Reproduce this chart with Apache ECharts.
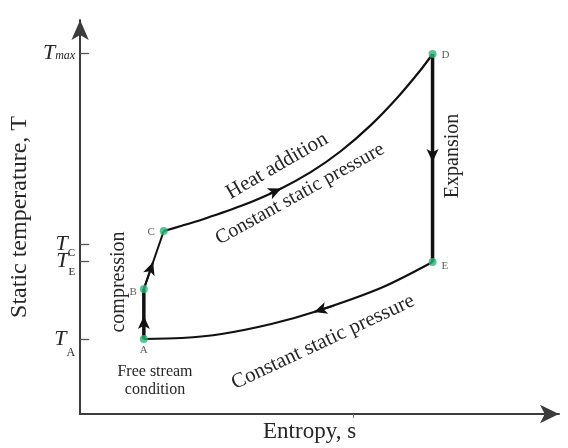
<!DOCTYPE html>
<html>
<head>
<meta charset="utf-8">
<script src="https://cdn.jsdelivr.net/npm/echarts@6/dist/echarts.min.js"></script>
<style>
html,body{margin:0;padding:0;background:#fff;}
#chart{width:568px;height:448px;}
</style>
</head>
<body>
<div id="chart"></div>
<script>
// ---- data (entropy s, temperature T in arbitrary schematic units) ----
const pointNames = ['A', 'B', 'C', 'D', 'E'];
const pointS = [64, 64, 84, 354, 354];
const pointT = [75, 125, 183, 360, 152];

const compressionAB = [[64, 75], [64, 125]];
const compressionBC = [[64, 125], [84, 183]];
const heatAddition = [[84, 183], [102, 188.2], [122, 194.3], [162, 208.2], [200, 224.6], [232, 242.1], [262, 263], [292, 288.9], [319, 316.8], [342, 344], [354, 360]];
const expansion = [[354, 360], [354, 152]];
const heatRejection = [[354, 152], [302, 126], [235, 102], [192, 90], [142, 80], [102, 76], [64, 75]];

// direction arrows: [from, to] (arrow head drawn at "to")
const arrows = [
  [[64, 75], [64, 98]],
  [[64, 125], [73.3, 152]],
  [[190, 220.2], [202, 225.6]],
  [[354, 360], [354, 252]],
  [[255, 108.4], [235, 102]]
];

const yTickValues = [75, 153, 170, 361];
const yTickSubs = ['A', 'E', 'C', 'max'];
const xTickValues = [274];

const xTitle = 'Entropy, s';
const yTitle = 'Static temperature, T';

// ---- chart ----
const serif = "'Liberation Serif', 'DejaVu Serif', serif";
const txt = '#262626';
const chart = echarts.init(document.getElementById('chart'), null, {renderer: 'canvas'});

const lineSeries = (data, width, extra) => Object.assign({
  type: 'line', data: data, showSymbol: false, symbol: 'none',
  lineStyle: {color: '#111', width: width}, silent: true, z: 3, animation: false
}, extra || {});

const labelPos = {
  A: {position: 'bottom', distance: 2, offset: [0, 0]},
  B: {position: 'left', distance: 3, offset: [0, 3]},
  C: {position: 'left', distance: 5, offset: [0, 1]},
  D: {position: 'right', distance: 5, offset: [0, 1]},
  E: {position: 'right', distance: 5, offset: [0, 4]}
};

const option = {
  backgroundColor: '#fff',
  animation: false,
  grid: {left: 78, right: 9, top: 20, bottom: 34, containLabel: false},
  xAxis: {
    type: 'value', min: 0, max: 481,
    name: xTitle, nameLocation: 'middle', nameGap: 6,
    nameTextStyle: {fontFamily: serif, fontSize: 23, color: txt, padding: [0, 20, 0, 0]},
    axisLine: {show: true, symbol: ['none', 'arrow'], symbolSize: [14, 19], lineStyle: {color: '#3c3c3c', width: 2}},
    axisTick: {show: true, customValues: xTickValues, length: 4, lineStyle: {color: '#777', width: 1}},
    axisLabel: {show: false},
    splitLine: {show: false}
  },
  yAxis: {
    type: 'value', min: 0, max: 394,
    name: yTitle, nameLocation: 'middle', nameGap: 45, nameRotate: 90,
    nameTextStyle: {fontFamily: serif, fontSize: 24, color: txt},
    axisLine: {show: true, symbol: ['none', 'arrow'], symbolSize: [13, 20], lineStyle: {color: '#3c3c3c', width: 2}},
    axisTick: {show: true, inside: true, customValues: yTickValues, length: 9, lineStyle: {color: '#555', width: 1.3}},
    axisLabel: {
      show: true, customValues: yTickValues, margin: 5,
      formatter: function (v) {
        const i = yTickValues.indexOf(v);
        const sub = yTickSubs[i];
        return '{t' + sub + '|T}{s' + sub + '|' + sub + '}';
      },
      rich: {
        tmax: {fontFamily: serif, fontStyle: 'italic', fontSize: 22, lineHeight: 18, color: txt, verticalAlign: 'middle'},
        smax: {fontFamily: serif, fontStyle: 'italic', fontSize: 12, lineHeight: 12, color: txt, verticalAlign: 'bottom'},
        tC: {fontFamily: serif, fontStyle: 'italic', fontSize: 22, lineHeight: 30, color: txt, verticalAlign: 'middle'},
        sC: {fontFamily: serif, fontSize: 11, lineHeight: 12, color: txt, verticalAlign: 'bottom'},
        tE: {fontFamily: serif, fontStyle: 'italic', fontSize: 22, lineHeight: 34, color: txt, verticalAlign: 'middle'},
        sE: {fontFamily: serif, fontSize: 11, lineHeight: 12, color: txt, verticalAlign: 'bottom'},
        tA: {fontFamily: serif, fontStyle: 'italic', fontSize: 22, lineHeight: 40, color: txt, verticalAlign: 'middle'},
        sA: {fontFamily: serif, fontSize: 12, lineHeight: 12, color: txt, verticalAlign: 'bottom'}
      }
    },
    splitLine: {show: false}
  },
  series: [
    lineSeries(compressionAB, 3.5),
    lineSeries(compressionBC, 2),
    lineSeries(heatAddition, 2.2, {smooth: 0.3}),
    lineSeries(expansion, 3.5),
    lineSeries(heatRejection, 2.2, {smooth: 0.3}),
    {
      type: 'line', data: [], silent: true, z: 4,
      markLine: {
        silent: true, animation: false,
        symbol: ['none', 'arrow'], symbolSize: [9, 13],
        label: {show: false},
        lineStyle: {color: '#111', width: 2, type: 'solid'},
        emphasis: {disabled: true},
        data: arrows.map(a => [{coord: a[0]}, {coord: a[1]}])
      }
    },
    {
      type: 'scatter', z: 5, silent: true,
      symbolSize: 8,
      itemStyle: {color: '#2cb577'},
      data: pointNames.map((n, i) => ({
        name: n, value: [pointS[i], pointT[i]],
        label: Object.assign({show: true, formatter: n, fontFamily: serif, fontSize: 11, color: '#333'}, labelPos[n])
      }))
    }
  ],
  graphic: [
    {type: 'text', x: 119, y: 282, rotation: Math.PI / 2,
     style: {text: 'compression', font: "20px 'Liberation Serif'", fill: txt, align: 'center', verticalAlign: 'middle', textAlign: 'center', textVerticalAlign: 'middle'}},
    {type: 'text', x: 155, y: 372,
     style: {text: 'Free stream', font: "16px 'Liberation Serif'", fill: txt, align: 'center', verticalAlign: 'middle', textAlign: 'center', textVerticalAlign: 'middle'}},
    {type: 'text', x: 155, y: 390,
     style: {text: 'condition', font: "16px 'Liberation Serif'", fill: txt, align: 'center', verticalAlign: 'middle', textAlign: 'center', textVerticalAlign: 'middle'}},
    {type: 'text', x: 277, y: 166, rotation: 30 * Math.PI / 180,
     style: {text: 'Heat addition', font: "21px 'Liberation Serif'", fill: txt, align: 'center', verticalAlign: 'middle', textAlign: 'center', textVerticalAlign: 'middle'}},
    {type: 'text', x: 300, y: 194, rotation: 29 * Math.PI / 180,
     style: {text: 'Constant static pressure', font: "20px 'Liberation Serif'", fill: txt, align: 'center', verticalAlign: 'middle', textAlign: 'center', textVerticalAlign: 'middle'}},
    {type: 'text', x: 323, y: 342, rotation: 25 * Math.PI / 180,
     style: {text: 'Constant static pressure', font: "21px 'Liberation Serif'", fill: txt, align: 'center', verticalAlign: 'middle', textAlign: 'center', textVerticalAlign: 'middle'}},
    {type: 'text', x: 453, y: 156, rotation: Math.PI / 2,
     style: {text: 'Expansion', font: "20px 'Liberation Serif'", fill: txt, align: 'center', verticalAlign: 'middle', textAlign: 'center', textVerticalAlign: 'middle'}}
  ]
};
chart.setOption(option);
</script>
</body>
</html>
